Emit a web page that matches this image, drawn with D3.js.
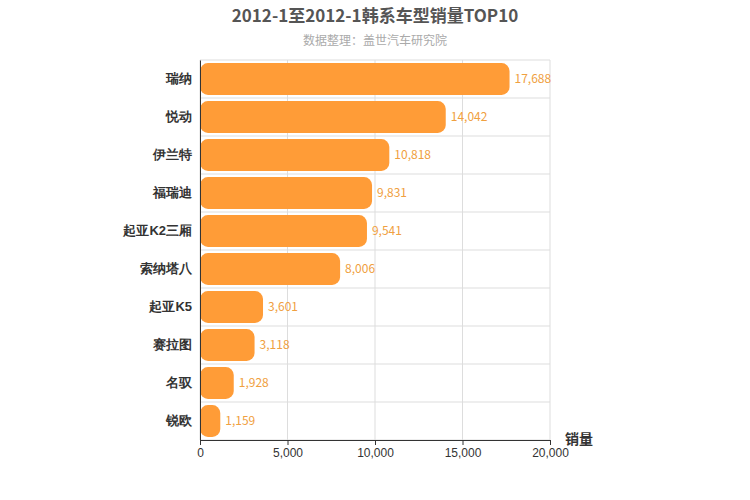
<!DOCTYPE html>
<html><head><meta charset="utf-8">
<script src="https://cdn.jsdelivr.net/npm/d3@7"></script>
<style>body{margin:0;background:#fff;font-family:"Noto Sans CJK SC","Liberation Sans",sans-serif;}</style>
</head><body>
<script>
// data
let models = ["瑞纳","悦动","伊兰特","福瑞迪","起亚K2三厢","索纳塔八","起亚K5","赛拉图","名驭","锐欧"];
let sales = [17688,14042,10818,9831,9541,8006,3601,3118,1928,1159];
let xTicks = [0,5000,10000,15000,20000];

let margin = {top: 60, right: 200, bottom: 60, left: 200},
    width = 750 - margin.left - margin.right,
    height = 500 - margin.top - margin.bottom;

let svg = d3.select("body").append("svg").attr("width", 750).attr("height", 500);

svg.append("text").attr("x", 375).attr("y", 22).attr("text-anchor", "middle")
    .style("font-size", "17px").style("font-weight", "bold").style("fill", "#555")
    .text("2012-1至2012-1韩系车型销量TOP10");
svg.append("text").attr("x", 375).attr("y", 45).attr("text-anchor", "middle")
    .style("font-size", "12px").style("fill", "#aaa")
    .text("数据整理：盖世汽车研究院");

let g = svg.append("g").attr("transform", `translate(${margin.left},${margin.top})`);

let xScale = d3.scaleLinear().domain([0, 20000]).range([0, width]);
let yScale = d3.scaleBand().domain(models).range([0, height]).paddingInner(0.16).paddingOuter(0.08);

// grid
g.selectAll(".vg").data(xTicks).enter().append("line")
    .attr("x1", d => xScale(d)).attr("x2", d => xScale(d))
    .attr("y1", 0).attr("y2", height).attr("stroke", "#ddd");
g.selectAll(".hg").data(d3.range(models.length + 1)).enter().append("line")
    .attr("x1", 0).attr("x2", width)
    .attr("y1", i => i * height / models.length).attr("y2", i => i * height / models.length)
    .attr("stroke", "#ddd");

g.selectAll("rect").data(models).enter().append("rect")
    .attr("fill", "#ff9c37")
    .attr("x", 0)
    .attr("y", d => yScale(d))
    .attr("width", (d, i) => xScale(sales[i]))
    .attr("height", yScale.bandwidth())
    .attr("rx", 8);

g.selectAll(".lbl").data(models).enter().append("text")
    .attr("x", (d, i) => xScale(sales[i]) + 5)
    .attr("y", d => yScale(d) + yScale.bandwidth() / 2 + 4)
    .style("font-size", "12px").style("fill", "#f0a040")
    .text((d, i) => d3.format(",")(sales[i]));

// axes
let xAxis = g.append("g").attr("transform", `translate(0,${height})`)
    .call(d3.axisBottom(xScale).tickValues(xTicks).tickFormat(d3.format(",")).tickSize(5));
xAxis.selectAll("text").style("font-size", "12px").style("fill", "#333");
xAxis.selectAll("line,path").attr("stroke", "#333");

let yAxis = g.append("g").call(d3.axisLeft(yScale).tickSize(0).tickPadding(8));
yAxis.select("path").attr("stroke", "#333");
yAxis.selectAll("text").style("font-size", "13px").style("font-weight", "bold").style("fill", "#333");

svg.append("text").attr("x", 565).attr("y", 444)
    .style("font-size", "14px").style("font-weight", "bold").style("fill", "#333").text("销量");
</script>
</body></html>
